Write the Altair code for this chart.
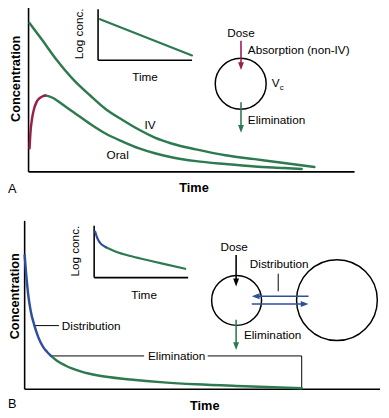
import altair as alt
import pandas as pd

GREEN = "#2e7a50"
RED = "#9c1c4c"
BLUE = "#2d4f9d"
FONT = "Liberation Sans"

# ---- Panel A: one-compartment curves (figure frame: x to the right, y downward) ----
iv_x = [30, 42, 58, 75, 92, 108, 125, 142, 158, 175, 200, 230, 260, 290, 321]
iv_y = [19, 35, 57, 77, 93, 107, 118, 128, 136, 142, 148, 154, 158, 162, 166]

oral_abs_x = [30, 31, 32.5, 34.5, 37, 40, 43, 46]
oral_abs_y = [147, 130, 117, 107, 100, 96, 94, 93]
oral_el_x = [46, 50, 55, 62, 75, 92, 108, 125, 142, 158, 175, 200, 230, 260, 290, 308]
oral_el_y = [93, 93.8, 96, 101, 110, 122, 132, 140, 147, 152, 156, 160, 163, 165.5, 167, 168]

insetA_x = [102, 196]
insetA_y = [15, 52]

# ---- Panel B: two-compartment curves ----
distB_x = [25, 26.5, 28.5, 31, 35, 39, 44, 48, 52]
distB_y = [256, 275, 295, 312, 328, 340, 350, 355, 359]
elimB_x = [52, 58, 67, 83, 100, 133, 167, 200, 250, 308]
elimB_y = [359, 364, 369, 375, 379, 383, 386, 388, 390, 392]

insetB_dist_x = [97, 99, 101, 104, 108]
insetB_dist_y = [232, 238, 242, 245.5, 248]
insetB_el_x = [108, 117, 133, 150, 167, 189]
insetB_el_y = [248, 252, 257, 261, 265, 270]

# ---- straight segments: x, y, x2, y2 ----
axes_seg = [
    (29, 0, 29, 171), (29, 171, 362, 171),
    (25, 221, 25, 393), (25, 393, 388, 393),
    (100, 5, 100, 57), (100, 57, 196, 57),
    (96, 226, 96, 279), (96, 279, 192, 279),
]
leader_seg = [
    (35, 328, 60, 328),
    (52, 359, 147, 359), (212, 359, 308, 359), (308, 359, 308, 393),
    (284, 275, 284, 293),
]
red_shaft = [(246, 37, 246, 62)]
green_shaft = [(246, 100, 246, 124), (241, 322, 241, 346)]
black_shaft = [(241, 256, 241, 281)]
blue_shaft = [(261, 298, 315, 298), (257, 306, 311, 306)]

# arrow heads: x, y
red_head = [(246, 63)]
green_head = [(246, 127), (241, 349)]
black_head = [(241, 284)]
blue_left_head = [(261, 298)]
blue_right_head = [(311, 306)]

# compartments: x, y, symbol size
circles = [(245.7, 81, 2704), (241.5, 302.3, 2601), (344, 302, 6806)]

# ---- text ----
center_txt = [("Dose", 246, 29), ("Dose", 239, 248), ("Time", 148, 74), ("Time", 147, 297),
              ("IV", 153, 123), ("Oral", 120, 154), ("Distribution", 285, 265), ("V", 281.5, 80)]
left_txt = [("Absorption (non-IV)", 253, 47), ("Elimination", 253, 118),
            ("Elimination", 249, 338), ("Distribution", 63, 328), ("Elimination", 151, 359)]
sub_txt = [("c", 287.5, 85)]
rot_txt = [("Log conc.", 81, 30), ("Log conc.", 77, 252)]
rot_bold_txt = [("Concentration", 16, 76), ("Concentration", 15.5, 298)]
bold_txt = [("Time", 198, 188), ("Time", 209, 410)]
panel_txt = [("A", 8, 189), ("B", 8, 408)]

X = alt.X("x:Q", scale=alt.Scale(domain=[8, 389], nice=False, zero=False), axis=None)
Y = alt.Y("y:Q", scale=alt.Scale(domain=[8, 418], nice=False, zero=False, reverse=True), axis=None)


def curve(xs, ys, color, width):
    df = pd.DataFrame({"x": xs, "y": ys, "o": list(range(len(xs)))})
    return alt.Chart(df).mark_line(color=color, strokeWidth=width, interpolate="monotone",
                                   strokeCap="round").encode(x=X, y=Y, order="o:Q")


def segs(rows, color, width):
    df = pd.DataFrame(rows, columns=["x", "y", "x2", "y2"])
    return alt.Chart(df).mark_rule(color=color, strokeWidth=width).encode(
        x=X, y=Y, x2="x2:Q", y2="y2:Q")


def heads(rows, path, color):
    df = pd.DataFrame(rows, columns=["x", "y"])
    return alt.Chart(df).mark_point(shape=path, size=64, filled=True, color=color,
                                    opacity=1, strokeWidth=0).encode(x=X, y=Y)


def texts(rows, size, align="center", weight="normal", angle=0):
    df = pd.DataFrame(rows, columns=["t", "x", "y"])
    return alt.Chart(df).mark_text(font=FONT, fontSize=size, align=align, baseline="middle",
                                   fontWeight=weight, angle=angle, color="black").encode(
        x=X, y=Y, text="t:N")


DOWN = "M-0.75,-1L0.75,-1L0,1Z"
LEFT = "M1,-0.75L1,0.75L-1,0Z"
RIGHT = "M-1,-0.75L-1,0.75L1,0Z"

circ_df = pd.DataFrame(circles, columns=["x", "y", "s"])
circ = alt.Chart(circ_df).mark_point(shape="circle", filled=False, color="black",
                                     strokeWidth=1.5, opacity=1).encode(
    x=X, y=Y, size=alt.Size("s:Q", scale=None))

layers = [
    segs(axes_seg, "black", 1.6),
    segs(leader_seg, "black", 1.0),
    curve(iv_x, iv_y, GREEN, 2.5),
    curve(oral_el_x, oral_el_y, GREEN, 2.5),
    curve(oral_abs_x, oral_abs_y, RED, 2.5),
    curve(insetA_x, insetA_y, GREEN, 2.2),
    curve(elimB_x, elimB_y, GREEN, 2.5),
    curve(distB_x, distB_y, BLUE, 2.5),
    curve(insetB_el_x, insetB_el_y, GREEN, 2.2),
    curve(insetB_dist_x, insetB_dist_y, BLUE, 2.2),
    circ,
    segs(red_shaft, RED, 1.6),
    segs(green_shaft, GREEN, 1.6),
    segs(black_shaft, "black", 1.6),
    segs(blue_shaft, BLUE, 1.6),
    heads(red_head, DOWN, RED),
    heads(green_head, DOWN, GREEN),
    heads(black_head, DOWN, "black"),
    heads(blue_left_head, LEFT, BLUE),
    heads(blue_right_head, RIGHT, BLUE),
    texts(center_txt, 12),
    texts(left_txt, 12, align="left"),
    texts(sub_txt, 8),
    texts(rot_txt, 12, angle=270),
    texts(rot_bold_txt, 13, weight="bold", angle=270),
    texts(bold_txt, 13, weight="bold"),
    texts(panel_txt, 13, align="left"),
]

chart = alt.layer(*layers).properties(
    width=381, height=410, autosize="none", padding=0, background="white"
).configure_view(stroke=None)

chart.save("out.html", embed_options={"renderer": "svg", "actions": False})
